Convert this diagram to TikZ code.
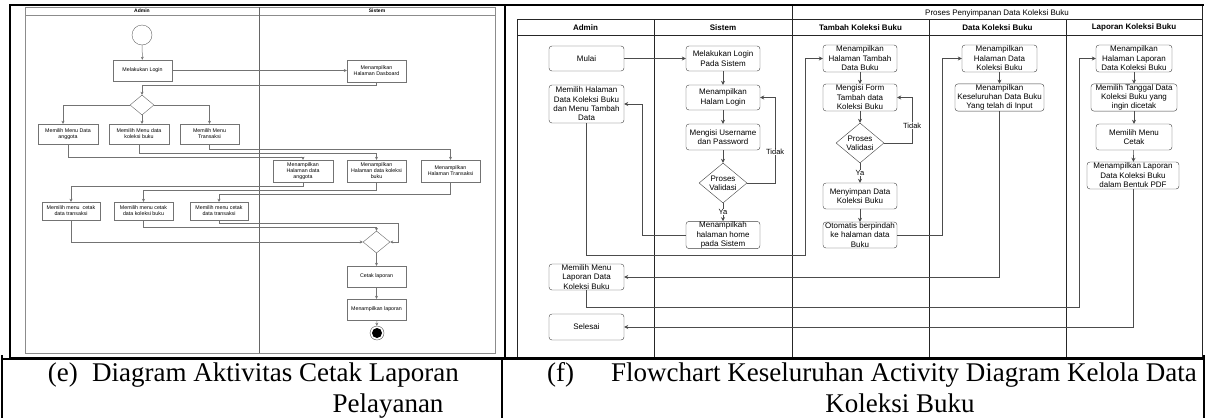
\documentclass[tikz,border=0pt]{standalone}
\usepackage{fontspec}
\setmainfont{Liberation Serif}
\setsansfont{Liberation Sans}
\usetikzlibrary{arrows.meta,%
		calc,%
		positioning,%
		shapes.geometric}

\begin{document}
\begin{tikzpicture}[x=1pt,y=-1pt,
  lbox/.style={draw=black!55, align=center, inner sep=0.5pt, minimum width=59pt, minimum height=21pt, font=\sffamily\fontsize{5.3}{6.1}\selectfont},
  ldec/.style={diamond, draw=black!60, inner sep=0pt},
  lflow/.style={draw=black!55, line width=0.5pt, -{Stealth[length=3pt,width=3pt]}},
  lhead/.style={font=\sffamily\bfseries\fontsize{5}{6}\selectfont, inner sep=0pt},
  rbox/.style={draw=black!75, rounded corners=3pt, align=center, inner sep=0.5pt, minimum width=75pt, minimum height=26pt, font=\sffamily\fontsize{8}{9.4}\selectfont},
  rdec/.style={diamond, draw=black!75, inner sep=0pt, minimum width=48pt, minimum height=40pt},
  rflow/.style={draw=black!70, line width=0.6pt, -{Stealth[length=4pt,width=4pt]}},
  rhead/.style={font=\sffamily\bfseries\fontsize{8}{9}\selectfont, inner sep=0pt},
  lane/.style={draw=black!85, line width=0.6pt},
  lbl/.style={font=\sffamily\fontsize{7.5}{8}\selectfont, fill=white, inner sep=0.5pt},
  caption/.style={font=\fontsize{27}{31}\selectfont, inner sep=0pt}]
\useasboundingbox (0,0) rectangle (1206,418);

% (e) cetak laporan pelayanan
\begin{scope}
\draw[black!45] (25,7) rectangle (495,353);
\draw[black!45] (25,15) -- (495,15);
\draw[black!60, line width=0.7pt] (259,7) -- (259,353);
\node[lhead] (e-admin) at (142,11) {Admin};
\node[lhead] (e-sistem) at (377,11) {Sistem};

\node[circle, draw=black!60, minimum size=20pt, inner sep=0pt] (start) at (142,35) {};
\node[lbox] (login) at (142.5,70.5) {Melakukan Login};
\node[lbox, minimum height=22pt] (dasb) at (376.5,71) {Menampilkan\\Halaman Dasboard};
\node[ldec, minimum width=24pt, minimum height=20pt] (pilih) at (142,105) {};
\node[lbox, minimum width=60pt, minimum height=20pt] (anggota) at (68,134) {Memilih Menu Data\\anggota};
\node[lbox, minimum width=60pt, minimum height=20pt] (koleksi) at (139,134) {Memilih Menu data\\koleksi buku};
\node[lbox, minimum height=20pt] (transaksi) at (209.5,134) {Memilih Menu\\Transaksi};
\node[lbox, minimum width=60pt, minimum height=22pt] (hanggota) at (303,171) {Menampilkan\\Halaman data\\anggota};
\node[lbox, minimum height=22pt] (hkoleksi) at (376.5,171) {Menampilkan\\Halaman data koleksi\\buku};
\node[lbox, minimum height=22pt] (htransaksi) at (450.5,171) {Menampilkan\\Halaman Transaksi};
\node[lbox, minimum width=58pt, minimum height=18pt] (cetak1) at (71,211) {Memilih menu\ \ cetak\\data transaksi};
\node[lbox, minimum height=18pt] (cetak2) at (143.5,211) {Memilih menu cetak\\data koleksi buku};
\node[lbox, minimum width=58pt, minimum height=18pt] (cetak3) at (219,211) {Memilih menu cetak\\data transaksi};
\node[ldec, minimum width=27pt, minimum height=22pt] (gabung) at (376.5,242) {};
\node[lbox] (cetak) at (376.5,276.5) {Cetak laporan};
\node[lbox] (tampil) at (376.5,309.5) {Menampilkan laporan};
\node[circle, draw=black!70, minimum size=14pt, inner sep=0pt] (akhir) at (377,333) {};
\fill[black] (akhir.center) circle (5);

\draw[lflow] (start) -- (login);
\draw[lflow] (login.east) -- (login.east -| dasb.west);
\draw[lflow] (dasb.south) -- ++(0,3) -| (pilih.north);
\draw[lflow] (pilih.west) -| ([xshift=-5pt]anggota.north);
\draw[lflow] (pilih.south) -- (pilih.south |- koleksi.north);
\draw[lflow] (pilih.east) -| (transaksi.north);
\draw[lflow] (anggota.south) -- ++(0,13) -| (hanggota.north);
\draw[lflow] (koleksi.south) -- ++(0,9) -| (hkoleksi.north);
\draw[lflow] (transaksi.south) -- ++(0,5) -| (htransaksi.north);
\draw[lflow] (hanggota.south) -- ++(0,4) -| (cetak1.north);
\draw[lflow] (hkoleksi.south) -- ++(0,8) -| (cetak2.north);
\draw[lflow] (htransaksi.south) -- ++(0,12) -| (cetak3.north);
\draw[lflow] (cetak1.south) |- (gabung.west);
\draw[lflow] (cetak2.south) -- ++(0,7) -| (gabung.north);
\draw[lflow] (cetak3.south) -- ++(0,3) -| ([xshift=8pt]gabung.east) -- (gabung.east);
\draw[lflow] (gabung) -- (cetak);
\draw[lflow] (cetak) -- (tampil);
\draw[lflow] (tampil) -- (akhir);
\end{scope}

% (f) kelola data koleksi buku
\begin{scope}
\draw[lane] (517,19) -- (1202,19);
\draw[lane] (517,35) -- (1202,35);
\foreach \x in {517,654,929,1066}
  \draw[lane] (\x,19) -- (\x,358);
\draw[lane] (792,5) -- (792,358);
\draw[lane] (1202,5) -- (1202,358);
\node[font=\sffamily\fontsize{8}{9}\selectfont, inner sep=0pt] (f-pool) at (997,13) {Proses Penyimpanan Data Koleksi Buku};
\node[rhead] (f-admin) at (585.5,27.5) {Admin};
\node[rhead] (f-sistem) at (723,27.5) {Sistem};
\node[rhead] (f-tambah) at (860.5,27.5) {Tambah Koleksi Buku};
\node[rhead] (f-data) at (997.5,27.5) {Data Koleksi Buku};
\node[rhead] (f-lap) at (1134,27.5) {Laporan Koleksi Buku};

\node[rbox, minimum height=25pt] (mulai) at (586.5,58.5) {Mulai};
\node[rbox, minimum height=38pt] (pilihdata) at (586.5,104) {Memilih Halaman\\Data Koleksi Buku\\dan Menu Tambah\\Data};
\node[rbox] (menulap) at (586.5,277) {Memilih Menu\\Laporan Data\\Koleksi Buku};
\node[rbox] (selesai) at (586.5,327) {Selesai};

\node[rbox, minimum width=74pt, minimum height=25pt] (masuk) at (723,58.5) {Melakukan Login\\Pada Sistem};
\node[rbox, minimum width=74pt, minimum height=25pt] (halogin) at (723,97.5) {Menampilkan\\Halam Login};
\node[rbox, minimum width=74pt] (isi) at (723,137) {Mengisi Username\\dan Password};
\node[rdec] (valid) at (723,183) {};
\node[font=\sffamily\fontsize{8}{9.4}\selectfont, align=center, inner sep=0pt] (valid-t) at (valid) {Proses\\Validasi};
\node[rbox, minimum width=74pt] (home) at (723,235) {Menampilkah\\halaman home\\pada Sistem};

\node[rbox, minimum width=74pt, minimum height=27pt] (tambah) at (860,58.5) {Menampilkan\\Halaman Tambah\\Data Buku};
\node[rbox, minimum width=74pt, minimum height=27pt] (form) at (860,97.5) {Mengisi Form\\Tambah data\\Koleksi Buku};
\node[rdec] (cek) at (860,143) {};
\node[font=\sffamily\fontsize{8}{9.4}\selectfont, align=center, inner sep=0pt] (cek-t) at (cek) {Proses\\Validasi};
\node[rbox, minimum width=74pt] (simpan) at (860,196) {Menyimpan Data\\Koleksi Buku};
\node[rbox, minimum width=74pt] (pindah) at (860,235) {Otomatis berpindah\\ke halaman data\\Buku};

\node[rbox, minimum height=27pt] (hdata) at (999.5,58.5) {Menampilkan\\Halaman Data\\Koleksi Buku};
\node[rbox, minimum width=89pt, minimum height=27pt] (semua) at (999.5,97.5) {Menampilkan\\Keseluruhan Data Buku\\Yang telah di Input};

\node[rbox, minimum width=76pt, minimum height=27pt] (hlap) at (1134,58.5) {Menampilkan\\Halaman Laporan\\Data Koleksi Buku};
\node[rbox, minimum width=86pt, minimum height=27pt] (tanggal) at (1134,97.5) {Memilih Tanggal Data\\Koleksi Buku yang\\ingin dicetak};
\node[rbox, minimum width=76pt] (menucetak) at (1134,137) {Memilih Menu\\Cetak};
\node[rbox, minimum width=92pt, minimum height=27pt] (pdf) at (1133,175.5) {Menampilkan Laporan\\Data Koleksi Buku\\dalam Bentuk PDF};

\draw[rflow] (mulai) -- (masuk);
\draw[rflow] (masuk) -- (halogin);
\draw[rflow] (halogin) -- (isi);
\draw[rflow] (isi) -- (valid);
\draw[rflow] (valid) -- node[lbl] {Ya} (home);
\draw[rflow] (valid.east) -- ++(28,0) |- node[lbl, pos=0.18] {Tidak} (halogin.east);
\draw[rflow] (home.west) -- ++(-44,0) |- (pilihdata.east);
\draw[rflow] (pilihdata.south) -- ++(0,132) -| ([xshift=-18pt]tambah.west) -- (tambah.west);
\draw[rflow] (tambah) -- (form);
\draw[rflow] (form) -- (cek);
\draw[rflow] (cek) -- node[lbl] {Ya} (simpan);
\draw[rflow] (cek.east) -- ++(28,0) |- node[lbl, pos=0.19] {Tidak} (form.east);
\draw[rflow] (simpan) -- (pindah);
\draw[rflow] (pindah.east) -| ([xshift=-20pt]hdata.west) -- (hdata.west);
\draw[rflow] (hdata) -- (semua);
\draw[rflow] (semua.south) |- (menulap.east);
\draw[rflow] (menulap.south) -- ++(0,17) -| ([xshift=-17pt]hlap.west) -- (hlap.west);
\draw[rflow] (hlap) -- (tanggal);
\draw[rflow] (tanggal) -- (menucetak);
\draw[rflow] (menucetak) -- (pdf);
\draw[rflow] (pdf.south) |- (selesai.east);
\end{scope}

% frames and captions
\draw[line width=2pt] (10,5) rectangle (505,358);
\draw[line width=2pt] (505,5) -- (1204,5);
\draw[line width=1.5pt] (505,358) -- (1204,358);
\draw[line width=1.2pt] (2,359) -- (1204,359);
\draw[line width=1.2pt] (2,355) -- (2,418);
\draw[line width=1.2pt] (502,359) -- (502,418);
\draw[line width=1.2pt] (1204,355) -- (1204,418);

\node[caption, anchor=base east] (cap-e1) at (459,381) {Diagram Aktivitas Cetak Laporan};
\node[caption, anchor=base east] (cap-e0) at ([xshift=-14pt]cap-e1.base west) {(e)};
\node[caption, anchor=base] (cap-e2) at (388,412) {Pelayanan};
\node[caption, anchor=base] (cap-f1) at (904,381) {Flowchart Keseluruhan Activity Diagram Kelola Data};
\node[caption, anchor=base west] (cap-f0) at (547,381) {(f)};
\node[caption, anchor=base] (cap-f2) at (900,412) {Koleksi Buku};
\end{tikzpicture}
\end{document}
